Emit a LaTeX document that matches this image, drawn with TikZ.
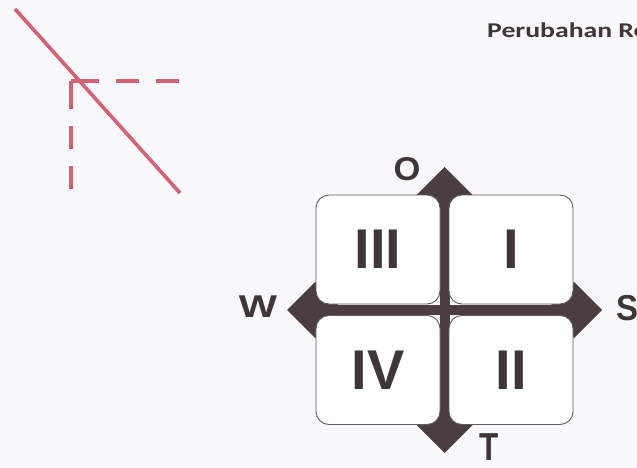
\documentclass[tikz,border=0pt]{standalone}
\usepackage{fontspec}
\usetikzlibrary{calc}
\setmainfont{Liberation Sans}
\newfontfamily\calib{Carlito}
\definecolor{bgc}{RGB}{249,248,251}
\definecolor{redc}{RGB}{212,98,116}
\definecolor{darkc}{RGB}{74,62,64}
\definecolor{txtc}{RGB}{62,54,56}
\definecolor{boxline}{RGB}{95,92,94}
\tikzset{
  quadbox/.style={draw=boxline, line width=0.9pt, fill=white, rounded corners=13pt,
    minimum width=124pt, minimum height=109pt, inner sep=0pt, text=txtc,
    font=\bfseries\fontsize{56}{56}\selectfont},
  dirlabel/.style={inner sep=0pt, text=txtc, font=\bfseries\fontsize{30}{30}\selectfont},
  redline/.style={draw=redc, line width=3.6pt},
  reddash/.style={draw=redc, line width=3.6pt, dash pattern=on 28pt off 17pt on 23pt off 17pt on 23pt off 17pt}
}
\begin{document}
\begin{tikzpicture}[x=1pt,y=-1pt]
\useasboundingbox (0,0) rectangle (637,468);
\clip (0,0) rectangle (637,468);
\fill[bgc] (0,0) rectangle (637,468);

% red sketch
\coordinate (la) at (15,9);
\coordinate (lb) at (180,193);
\coordinate (corner) at (71,81);
\coordinate (hend) at (180,81);
\coordinate (vend) at (71,193);
\draw[redline] (la) -- (lb);
\draw[reddash] (corner) -- (hend);
\draw[reddash] (corner) -- (vend);

% title (cut off at the right edge, as in the reference)
\node[anchor=base west, inner sep=0pt, text=txtc, font=\calib\bfseries\fontsize{21}{21}\selectfont] (title) at (487,38) {\scalebox{1.32}[1]{Perubahan Re}};

% cross with diamonds
\coordinate (c) at (444.5,310);
\coordinate (dt) at (444.5,195);
\coordinate (db) at (444.5,425);
\coordinate (dl) at (315,310);
\coordinate (dr) at (574,310);
\fill[darkc] (439.5,195) rectangle (449.5,425);
\fill[darkc] (315,305) rectangle (574,315);
\foreach \p in {dt,db,dl,dr}{
  \fill[darkc] ($(\p)+(0,-28)$) -- ($(\p)+(28,0)$) -- ($(\p)+(0,28)$) -- ($(\p)+(-28,0)$) -- cycle;
}

% boxes
\node[quadbox] (q3) at (378,249.5) {III};
\node[quadbox] (q1) at (511,249.5) {I};
\node[quadbox] (q4) at (378,370) {IV};
\node[quadbox] (q2) at (511,370) {II};

% direction labels
\node[dirlabel] (lo) at (407,169) {\scalebox{1.15}[1.1]{O}};
\node[dirlabel] (lw) at (258,307) {\scalebox{1.35}[1.05]{W}};
\node[dirlabel] (ls) at (627,308.5) {\scalebox{1.1}[1.2]{S}};
\node[dirlabel] (lt) at (489,447.5) {\scalebox{1.05}[1.3]{T}};
\end{tikzpicture}
\end{document}
